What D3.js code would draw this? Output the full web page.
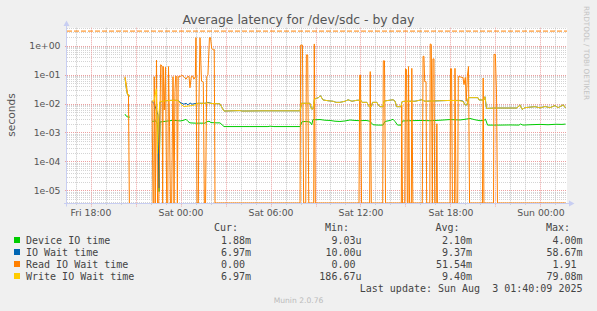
<!DOCTYPE html>
<html>
<head>
<meta charset="utf-8">
<title>Average latency for /dev/sdc - by day</title>
<script src="https://cdnjs.cloudflare.com/ajax/libs/d3/7.8.5/d3.min.js"></script>
<style>
body{margin:0;background:#f0f0f0;}
svg text{font-family:"DejaVu Sans",sans-serif;}
svg text.mono{font-family:"DejaVu Sans Mono",monospace;white-space:pre;}
</style>
</head>
<body>
<svg id="chart" width="597" height="311"></svg>
<script>
/***************************  Data ***************************/
// time is in hours from Sat 02 Aug 2025 00:00, value in seconds (null = no data)
var timeStart = -7.567;
var timeEnd = 25.767;
var hruleValue = 3.2;

var devTime = [
  [-3.70,4.3e-3],[-3.60,3.6e-3],[-3.50,3.4e-3],[-3.37,3.4e-3],[-3.2,null],
  [-1.90,2.4e-3],[-1.77,2.45e-3],[-1.63,2.5e-3],[-1.53,1.9e-3],[-1.43,9e-6],[-1.37,2.3e-3],
  [-1.10,2.4e-3],[-0.83,2.5e-3],[-0.57,2.6e-3],[-0.30,2.6e-3],[-0.03,2.5e-3],[0.17,2.6e-3],
  [0.37,2.85e-3],[0.50,2.4e-3],[0.63,2.15e-3],[0.97,2.1e-3],[1.30,2.1e-3],[1.63,2.1e-3],
  [1.77,2.35e-3],[1.90,2.45e-3],[2.03,2.2e-3],[2.37,2.15e-3],[2.63,2.15e-3],[2.77,1.85e-3],
  [2.90,1.6e-3],[4.63,1.6e-3],[5.83,1.6e-3],[5.97,1.65e-3],[6.23,1.6e-3],[7.97,1.6e-3],
  [8.10,2.35e-3],[8.37,2.4e-3],[8.63,2.3e-3],[8.75,1.85e-3],[8.83,2.8e-3],[9.03,2.75e-3],
  [9.30,2.8e-3],[9.63,2.65e-3],[9.97,2.6e-3],[10.30,2.45e-3],[10.63,2.4e-3],[10.97,2.5e-3],
  [11.30,2.7e-3],[11.63,2.6e-3],[11.97,2.55e-3],[12.37,2.6e-3],[12.63,2.45e-3],[12.83,1.85e-3],
  [13.17,1.8e-3],[13.50,1.8e-3],[13.63,2.4e-3],[13.97,2.6e-3],[14.17,2.85e-3],[14.30,2.4e-3],
  [14.47,1.8e-3],[14.70,1.8e-3],[14.80,2.5e-3],[15.30,2.55e-3],[15.97,2.6e-3],[16.63,2.55e-3],
  [17.30,2.65e-3],[17.97,2.8e-3],[18.63,2.7e-3],[18.97,2.85e-3],[19.30,3.05e-3],[19.63,2.75e-3],
  [19.97,2.55e-3],[20.23,2.6e-3],[20.33,2.9e-3],[20.47,1.8e-3],[21.30,1.8e-3],[21.97,1.82e-3],
  [22.57,1.8e-3],[22.67,1.95e-3],[22.83,1.8e-3],[23.30,1.85e-3],[23.97,1.9e-3],[24.50,1.85e-3],
  [25.03,1.92e-3],[25.43,1.9e-3],[25.67,1.95e-3]
];

var ioWait = [
  [-3.70,0.075],[-3.60,0.03],[-3.53,0.02],[-3.37,0.018],[-3.2,null],
  [-1.90,0.012],[-1.77,0.01],[-1.63,0.0065],[-1.50,0.004],[-1.43,1.2e-5],[-1.37,0.011],
  [-1.17,0.012],[-0.97,0.0125],[-0.70,0.0128],[-0.43,0.013],[-0.17,0.0128],[0.03,0.0105],
  [0.23,0.0095],[0.37,0.0102],[0.50,0.009],[0.63,0.0105],[0.77,0.0095],[0.97,0.010],
  [1.17,0.0102],[1.63,0.0102],[1.83,0.011],[2.10,0.01],[2.63,0.0098],[2.77,0.0072],
  [2.90,0.0055],[3.97,0.0057],[4.10,0.0055],[5.50,0.0056],[6.63,0.0056],[7.97,0.0056],
  [8.07,0.0102],[8.63,0.0102],[8.73,0.0065],[8.83,0.0065],[8.93,0.0143],[9.20,0.016],
  [9.33,0.0187],[9.50,0.0133],[9.83,0.0125],[10.17,0.012],[10.37,0.011],[10.63,0.011],
  [10.97,0.012],[11.17,0.0135],[11.43,0.012],[11.77,0.013],[12.03,0.013],[12.10,0.011],
  [12.43,0.011],[12.57,0.0078],[12.73,0.0078],[12.80,0.011],[13.10,0.011],[13.17,0.009],
  [13.30,0.0078],[13.50,0.0078],[13.57,0.0122],[14.17,0.0135],[14.30,0.0122],[14.41,0.0078],
  [14.70,0.0078],[14.77,0.0117],[14.97,0.012],[15.63,0.012],[16.08,0.0135],[16.30,0.012],
  [17.30,0.0125],[17.97,0.0128],[18.63,0.0128],[18.83,0.0122],[18.97,0.009],[19.10,0.009],
  [19.20,0.016],[19.83,0.016],[19.90,0.0133],[20.23,0.0133],[20.30,0.0172],[20.40,0.0068],
  [20.97,0.0070],[21.97,0.0070],[22.43,0.0070],[22.63,0.009],[22.77,0.0063],[22.97,0.0072],
  [23.63,0.0078],[23.97,0.0071],[24.30,0.0079],[24.63,0.0072],[24.97,0.0085],[25.17,0.0072],
  [25.52,0.009],[25.67,0.007]
];

var readWait = [
  [-3.70,0.085],[-3.61,0.045],[-3.53,0.022],[-3.47,0.02],[-3.41,0],[-3.2,null],
  [-1.90,0.012],[-1.83,0],[-1.78,0],[-1.75,0.085],[-1.68,0],[-1.60,0.32],[-1.53,0],
  [-1.45,0],[-1.32,0.22],[-1.23,0.2],[-1.19,0],[-1.15,0.19],[-1.08,0.006],[-1.00,0.18],
  [-0.92,0],[-0.85,0],[-0.80,0.19],[-0.73,0.0016],[-0.67,0],[-0.59,0],[-0.50,0.085],
  [-0.43,0],[-0.37,0.026],[-0.32,0.09],[-0.25,0.085],[-0.21,0],[-0.15,0.085],[-0.03,0.085],
  [0.07,0.095],[0.17,0.09],[0.27,0.08],[0.37,0.07],[0.47,0.085],[0.57,0.085],[0.63,0.035],
  [0.72,0.085],[0.80,0.09],[0.90,0.07],[0.99,0.085],[1.03,1.9],[1.10,0],[1.19,0],
  [1.23,0.012],[1.30,1.9],[1.40,0.06],[1.52,0.055],[1.59,0],[1.67,0],[1.75,0.085],
  [1.83,0.1],[1.93,1.9],[2.00,1.9],[2.08,0.8],[2.19,0.72],[2.25,0.75],[2.30,0],
  [7.97,0],[8.01,1.05],[8.13,1.05],[8.21,0],[8.35,0],[8.39,0.48],[8.48,0.48],[8.55,0],
  [8.88,0],[8.92,1.15],[8.99,0],[11.90,0],[11.95,0.096],[12.00,0.096],[12.07,0],
  [12.61,0],[12.65,0.127],[12.72,0],[13.48,0],[13.52,0.3],[13.60,0.3],[13.67,0],
  [14.72,0],[14.75,0.009],[14.80,0],[14.95,0],[15.00,0.16],[15.07,0.15],[15.12,0],
  [15.17,0],[15.20,0.19],[15.27,0],[15.39,0],[15.42,0.165],[15.49,0],[16.12,0],
  [16.17,0.43],[16.23,0.43],[16.28,0.057],[16.37,0.057],[16.41,0],[16.62,0],[16.65,1.15],
  [16.72,1.1],[16.79,0],[16.83,0.35],[16.90,0.35],[16.95,0],[17.05,0],[17.09,0.002],
  [17.13,0],[17.97,0],[18.00,0.16],[18.07,0.16],[18.13,0],[18.27,0],[18.30,0.165],
  [18.37,0],[18.48,0],[18.52,0.085],[18.63,0.085],[18.73,0.08],[18.83,0.08],[18.90,0.045],
  [18.99,0.08],[19.05,0.012],[19.12,0.085],[19.20,0.19],[19.27,0],[20.13,0],[20.18,0.076],
  [20.23,0],[20.87,0],[20.90,0.5],[20.99,0.5],[21.07,0.02],[21.13,0],[25.67,0]
];

var writeWait = [
  [-3.70,0.078],[-3.60,0.03],[-3.53,0.02],[-3.37,0.019],[-3.2,null],
  [-1.90,0.0125],[-1.77,0.012],[-1.61,0.032],[-1.53,1.9e-4],[-1.47,2.5e-3],[-1.37,0.0118],
  [-1.17,0.012],[-0.97,0.0125],[-0.70,0.0128],[-0.43,0.013],[-0.17,0.0128],[0.03,0.0095],
  [0.23,0.0078],[0.50,0.0082],[0.77,0.0085],[0.97,0.009],[1.17,0.0102],[1.63,0.0102],
  [1.83,0.0105],[2.10,0.01],[2.63,0.0098],[2.77,0.0072],[2.90,0.0055],[3.97,0.0057],
  [4.10,0.0055],[5.50,0.0056],[6.63,0.0056],[7.97,0.0056],[8.07,0.0102],[8.63,0.0102],
  [8.73,0.0065],[8.83,0.0065],[8.93,0.0143],[9.20,0.016],[9.33,0.0187],[9.50,0.0133],
  [9.83,0.0125],[10.17,0.012],[10.37,0.011],[10.63,0.011],[10.97,0.012],[11.17,0.0135],
  [11.43,0.012],[11.77,0.013],[12.03,0.013],[12.10,0.011],[12.43,0.011],[12.57,0.0078],
  [12.73,0.0078],[12.80,0.011],[13.10,0.011],[13.17,0.009],[13.30,0.0078],[13.50,0.0078],
  [13.57,0.0122],[14.17,0.0135],[14.30,0.0122],[14.41,0.0078],[14.70,0.0078],[14.77,0.0117],
  [14.97,0.012],[15.63,0.012],[16.08,0.0135],[16.30,0.012],[17.30,0.0125],[17.97,0.0128],
  [18.63,0.0125],[18.83,0.0118],[18.97,0.009],[19.10,0.009],[19.20,0.016],[19.83,0.016],
  [19.90,0.0133],[20.23,0.0133],[20.30,0.0172],[20.40,0.0068],[20.97,0.0070],[21.97,0.0070],
  [22.43,0.0070],[22.63,0.009],[22.77,0.0063],[22.97,0.0072],[23.63,0.0078],[23.97,0.0071],
  [24.30,0.0079],[24.63,0.0072],[24.97,0.0085],[25.17,0.0072],[25.52,0.009],[25.67,0.007]
];

var yTickValues = [1, 1e-1, 1e-2, 1e-3, 1e-4, 1e-5];
var yTickLabels = ["1e+00", "1e-01", "1e-02", "1e-03", "1e-04", "1e-05"];

var legendNames = ["Device IO time", "IO Wait time", "Read IO Wait time", "Write IO Wait time"];
var legendColors = ["#00cc00", "#0066b3", "#ff8000", "#ffcc00"];
var legendHeaders = ["Cur:", "Min:", "Avg:", "Max:"];
var curValues = ["1.88m", "6.97m", "0.00\u00a0", "6.97m"];
var minValues = ["9.03u", "10.00u", "0.00\u00a0", "186.67u"];
var avgValues = ["2.10m", "9.37m", "51.54m", "9.40m"];
var maxValues = ["4.00m", "58.67m", "1.91\u00a0", "79.08m"];
var lastUpdate = "Last update: Sun Aug  3 01:40:09 2025";

/***************************  Functions ***************************/
var baseDate = new Date(2025, 7, 2, 0, 0, 0);
function hourToDate(h)
    {
    return new Date(baseDate.getTime() + h * 3600 * 1000);
    }

/***************************  Chart ***************************/
var svg = d3.select("#chart");
var plotLeft = 67, plotRight = 567, plotTop = 27.7, plotBottom = 203.5;

var x = d3.scaleTime()
    .domain([hourToDate(timeStart), hourToDate(timeEnd)])
    .range([plotLeft, plotRight]);
var y = d3.scaleLog()
    .domain([3.5e-6, 4.19])
    .range([plotBottom, plotTop]);

svg.append("rect").attr("width", 597).attr("height", 311).attr("fill", "#f0f0f0");
svg.append("rect")
    .attr("x", plotLeft).attr("y", plotTop)
    .attr("width", plotRight - plotLeft).attr("height", plotBottom - plotTop)
    .attr("fill", "#ffffff");

svg.append("clipPath").attr("id", "plotclip")
    .append("rect")
    .attr("x", plotLeft).attr("y", plotTop - 1)
    .attr("width", plotRight - plotLeft + 1).attr("height", plotBottom - plotTop + 1);

// grid
var grid = svg.append("g").attr("id", "grid");
var minorY = [], majorY = [];
for (var e = -6; e <= 0; e++)
    {
    for (var k = 1; k <= 9; k++)
        {
        var v = k * Math.pow(10, e);
        if (v < y.domain()[0] || v > y.domain()[1]) continue;
        if (k == 1) majorY.push(v); else minorY.push(v);
        }
    }
grid.selectAll("line.hminor").data(minorY).enter().append("line")
    .attr("class", "hminor")
    .attr("x1", plotLeft).attr("x2", plotRight)
    .attr("y1", d => Math.round(y(d)) + 0.5).attr("y2", d => Math.round(y(d)) + 0.5)
    .attr("stroke", "#d4d4d4").attr("stroke-dasharray", "1,1");

var hourTicks = x.ticks(d3.timeHour.every(1));
var majorTicks = x.ticks(d3.timeHour.every(3));
var labelTicks = x.ticks(d3.timeHour.every(6));
grid.selectAll("line.vminor").data(hourTicks.filter(d => d.getHours() % 3 != 0)).enter().append("line")
    .attr("class", "vminor")
    .attr("x1", d => Math.round(x(d)) + 0.5).attr("x2", d => Math.round(x(d)) + 0.5)
    .attr("y1", plotTop).attr("y2", plotBottom + 2)
    .attr("stroke", "#c4c4c4").attr("stroke-dasharray", "1,1");

grid.selectAll("line.hmajor").data(majorY).enter().append("line")
    .attr("class", "hmajor")
    .attr("x1", plotLeft - 2).attr("x2", plotRight)
    .attr("y1", d => Math.round(y(d)) + 0.5).attr("y2", d => Math.round(y(d)) + 0.5)
    .attr("stroke", "#eda0a0").attr("stroke-dasharray", "1,1");
grid.selectAll("line.vmajor").data(majorTicks).enter().append("line")
    .attr("class", "vmajor")
    .attr("x1", d => Math.round(x(d)) + 0.5).attr("x2", d => Math.round(x(d)) + 0.5)
    .attr("y1", plotTop).attr("y2", plotBottom + 3)
    .attr("stroke", "#eda0a0").attr("stroke-dasharray", "1,1");

// series
var line = d3.line()
    .defined(d => d[1] !== null)
    .x(d => x(hourToDate(d[0])))
    .y(d => d[1] > 0 ? y(d[1]) : plotBottom - 0.5);

var series = [devTime, ioWait, readWait, writeWait];
var lines = svg.append("g").attr("clip-path", "url(#plotclip)");
lines.selectAll("path").data(series).enter().append("path")
    .attr("d", line)
    .attr("fill", "none")
    .attr("stroke", (d, i) => legendColors[i])
    .attr("stroke-width", 1)
    .attr("stroke-linejoin", "miter");

lines.append("line")
    .attr("x1", plotLeft).attr("x2", plotRight)
    .attr("y1", y(hruleValue)).attr("y2", y(hruleValue))
    .attr("stroke", "#ff8000").attr("stroke-width", 1)
    .attr("stroke-dasharray", "5,2");

// axes
var axisColor = "#c8cef2";
svg.append("line")
    .attr("x1", plotLeft - 0.5).attr("x2", plotLeft - 0.5)
    .attr("y1", plotBottom + 3).attr("y2", 24)
    .attr("stroke", axisColor);
svg.append("line")
    .attr("x1", plotLeft - 3).attr("x2", 571)
    .attr("y1", plotBottom).attr("y2", plotBottom)
    .attr("stroke", axisColor);
svg.append("path")
    .attr("d", "M" + (plotLeft - 3.5) + ",26 L" + (plotLeft - 0.5) + ",20.5 L" + (plotLeft + 2.5) + ",26 Z")
    .attr("fill", axisColor);
svg.append("path")
    .attr("d", "M569," + (plotBottom - 3) + " L574.5," + plotBottom + " L569," + (plotBottom + 3) + " Z")
    .attr("fill", axisColor);

svg.selectAll("text.ytick").data(yTickValues).enter().append("text")
    .attr("class", "ytick")
    .attr("x", 60.5).attr("y", d => y(d)).attr("dy", "0.35em")
    .attr("text-anchor", "end")
    .attr("font-size", "9.3px").attr("fill", "#555")
    .text((d, i) => yTickLabels[i]);

svg.selectAll("text.xtick").data(labelTicks).enter().append("text")
    .attr("class", "xtick")
    .attr("x", d => x(d) + 0.5).attr("y", 215.5)
    .attr("text-anchor", "middle")
    .attr("font-size", "9.3px").attr("fill", "#555")
    .text(d3.timeFormat("%a %H:%M"));

// titles
svg.append("text")
    .attr("x", 298.5).attr("y", 23.5)
    .attr("text-anchor", "middle")
    .attr("font-size", "12.4px").attr("fill", "#555")
    .text("Average latency for /dev/sdc - by day");
svg.append("text")
    .attr("transform", "translate(15,115) rotate(-90)")
    .attr("text-anchor", "middle")
    .attr("font-size", "10.6px").attr("fill", "#555")
    .text("seconds");
svg.append("text")
    .attr("transform", "translate(584,53) rotate(90)")
    .attr("text-anchor", "middle")
    .attr("font-size", "7.3px").attr("fill", "#c4c4c4")
    .text("RRDTOOL / TOBI OETIKER");

/***************************  Legend ***************************/
var legend = svg.append("g").attr("id", "legend");
var colRight = [251, 361.5, 472, 582.5];
var headRight = [238, 349, 459.5, 570];
var columns = [curValues, minValues, avgValues, maxValues];

legend.selectAll("text.head").data(legendHeaders).enter().append("text")
    .attr("class", "head mono")
    .attr("x", (d, i) => headRight[i]).attr("y", 231)
    .attr("text-anchor", "end")
    .attr("font-size", "10px").attr("fill", "#444")
    .text(d => d);

var rows = legend.selectAll("g.row").data(legendNames).enter().append("g")
    .attr("class", "row")
    .attr("transform", (d, i) => "translate(0," + (243.5 + i * 12) + ")");
rows.append("rect")
    .attr("x", 14).attr("y", -6.5).attr("width", 6).attr("height", 6)
    .attr("fill", (d, i) => legendColors[i]);
rows.append("text")
    .attr("class", "mono")
    .attr("x", 26).attr("y", 0)
    .attr("font-size", "10px").attr("fill", "#444")
    .text(d => d);
columns.forEach(function(col, c)
    {
    rows.append("text")
        .attr("class", "mono")
        .attr("x", colRight[c]).attr("y", 0)
        .attr("text-anchor", "end")
        .attr("font-size", "10px").attr("fill", "#444")
        .text((d, i) => col[i]);
    });

legend.append("text")
    .attr("class", "mono")
    .attr("x", 582.5).attr("y", 292)
    .attr("text-anchor", "end")
    .attr("font-size", "10px").attr("fill", "#444")
    .text(lastUpdate);
legend.append("text")
    .attr("x", 298.5).attr("y", 302.5)
    .attr("text-anchor", "middle")
    .attr("font-size", "7.6px").attr("fill", "#bbbbbb")
    .text("Munin 2.0.76");
</script>
</body>
</html>
